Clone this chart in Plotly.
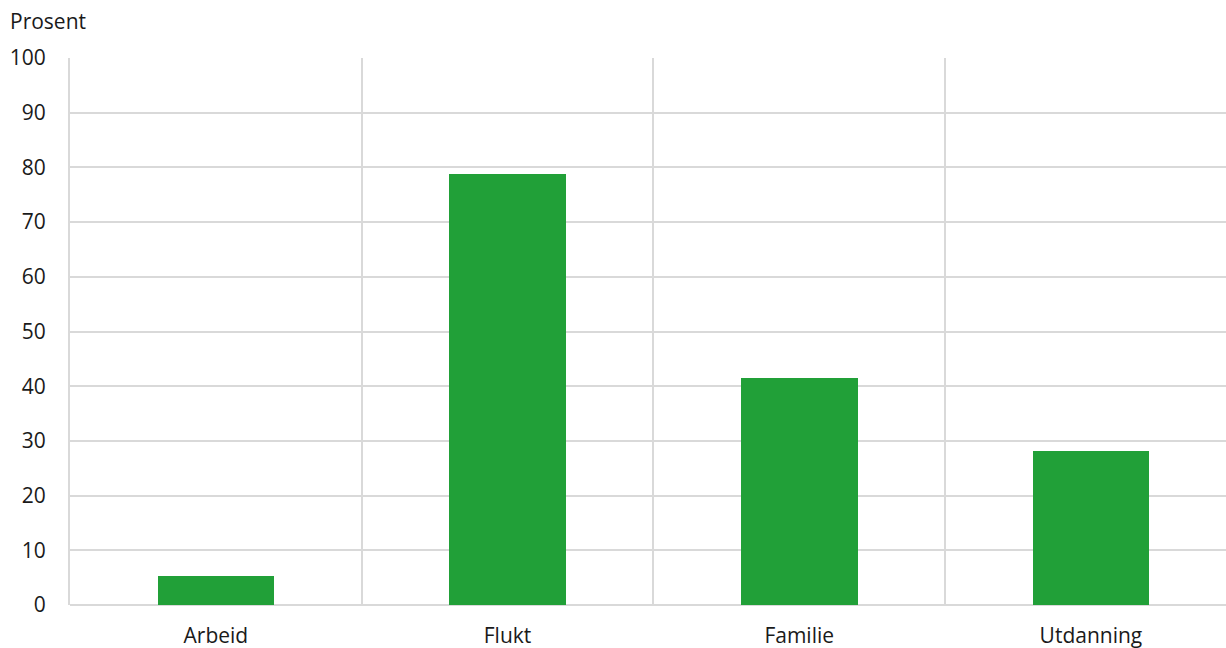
import plotly.graph_objects as go

categories = ["Arbeid", "Flukt", "Familie", "Utdanning"]
values = [5.3, 78.8, 41.5, 28.2]
y_ticks = [0, 10, 20, 30, 40, 50, 60, 70, 80, 90, 100]

positions = list(range(len(categories)))

fig = go.Figure(
    go.Bar(
        x=positions,
        y=values,
        width=0.4,
        marker=dict(color="#21a038", line=dict(width=0)),
        hoverinfo="x+y",
    )
)

grid = "#d9d9d9"
font = "Open Sans, sans-serif"

fig.update_layout(
    width=1226,
    height=648,
    margin=dict(l=70, r=0, t=58, b=43, autoexpand=False),
    plot_bgcolor="white",
    paper_bgcolor="white",
    showlegend=False,
    font=dict(family=font, size=21, color="#1a1a1a"),
    bargap=0,
)

fig.update_xaxes(
    range=[-0.5, 3.463],
    tickmode="array",
    tickvals=positions,
    ticktext=categories,
    showgrid=False,
    zeroline=False,
    showline=False,
    ticks="",
    ticklabelstandoff=16,
    minor=dict(tickmode="array", tickvals=[0.5, 1.5, 2.5], showgrid=True,
               gridcolor=grid, gridwidth=2, ticks=""),
    fixedrange=True,
)

fig.update_yaxes(
    range=[0, 100],
    tickmode="array",
    tickvals=y_ticks,
    showgrid=True,
    gridcolor=grid,
    gridwidth=2,
    zeroline=True,
    zerolinecolor=grid,
    zerolinewidth=2,
    showline=True,
    linecolor=grid,
    linewidth=2,
    ticks="",
    ticklabelstandoff=18,
    fixedrange=True,
)

fig.add_annotation(
    text="Prosent",
    xref="paper", yref="paper",
    x=-62 / 1156, y=1,
    xanchor="left", yanchor="bottom",
    yshift=21,
    showarrow=False,
    font=dict(family=font, size=21, color="#1a1a1a"),
)

# remove the browser's default 8px body margin so the figure fills the window exactly
fig.write_html(
    "out.html",
    config={"displayModeBar": False},
    post_script="document.body.style.margin='0';document.body.style.overflow='hidden';",
)
